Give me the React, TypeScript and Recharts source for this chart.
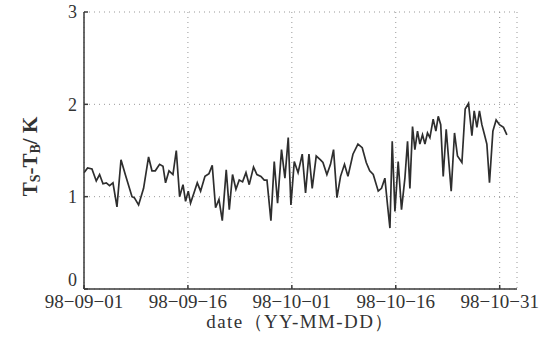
import React from "react";
import { LineChart, Line, XAxis, YAxis, CartesianGrid } from "recharts";

const days = [
  0.0, 0.52, 1.15, 1.77, 2.25, 2.74, 3.22, 3.69, 4.18, 4.76, 5.34, 5.96, 6.93, 7.26, 7.88, 8.6, 9.32, 9.81,
  10.29, 10.91, 11.4, 11.77, 12.27, 12.84, 13.32, 13.8, 14.29, 14.66, 15.05, 15.38, 15.87, 16.35, 16.83,
  17.46, 18.04, 18.51, 18.99, 19.48, 19.96, 20.53, 20.97, 21.44, 21.93, 22.41, 22.89, 23.38, 23.85, 24.47,
  24.96, 25.54, 26.02, 26.41, 26.98, 27.46, 27.94, 28.51, 29.0, 29.48, 29.87, 30.35, 30.9, 31.5, 31.98,
  32.47, 32.94, 33.52, 34.1, 34.49, 35.06, 35.58, 36.02, 36.51, 37.03, 37.6, 38.1, 38.82, 39.54, 40.16,
  40.74, 41.24, 41.75, 42.47, 42.94, 43.43, 43.81, 44.16, 44.49, 44.88, 45.35, 45.83, 46.32, 46.7, 47.04,
  47.42, 47.76, 48.14, 48.48, 48.86, 49.21, 49.58, 49.93, 50.4, 50.79, 51.13, 51.49, 51.85, 52.28, 53.0,
  53.48, 53.91, 54.55, 55.02, 55.5, 55.99, 56.32, 56.71, 57.08, 57.43, 57.81, 58.15, 58.53, 59.02, 59.49,
  59.97, 60.55, 61.04,
];

const tempDiff = [
  1.26, 1.31, 1.3, 1.17, 1.24, 1.14, 1.15, 1.12, 1.15, 0.89, 1.4, 1.24, 1.0, 0.99, 0.91, 1.09, 1.43, 1.28,
  1.28, 1.35, 1.33, 1.15, 1.28, 1.24, 1.5, 1.0, 1.13, 0.95, 1.06, 0.93, 1.04, 1.15, 1.06,
  1.22, 1.25, 1.34, 0.88, 0.97, 0.74, 1.29, 0.86, 1.24, 1.08, 1.18, 1.16, 1.26, 1.13, 1.32,
  1.24, 1.22, 1.18, 1.18, 0.74, 1.38, 0.93, 1.51, 1.2, 1.64, 0.91, 1.38, 1.26, 1.46, 1.04,
  1.46, 1.09, 1.44, 1.4, 1.37, 1.24, 1.35, 1.51, 0.99, 1.22, 1.35, 1.22, 1.46, 1.57, 1.53,
  1.37, 1.28, 1.24, 1.06, 1.09, 1.2, 0.91, 0.66, 1.6, 0.84, 1.38, 0.86, 1.2, 1.6, 1.09,
  1.76, 1.51, 1.71, 1.57, 1.67, 1.57, 1.69, 1.64, 1.84, 1.71, 1.87, 1.78, 1.22, 1.73, 1.06,
  1.69, 1.44, 1.37, 1.95, 2.01, 1.66, 1.93, 1.75, 1.93, 1.78, 1.67, 1.57, 1.15, 1.71, 1.83,
  1.78, 1.75, 1.67,
];

const xTicks = [0, 15, 30, 45, 60];
const xTickLabels = ["98\u221209\u221201", "98\u221209\u221216", "98\u221210\u221201", "98\u221210\u221216", "98\u221210\u221231"];
const yTicks = [0, 1, 2, 3];
const yTickLabels = ["0", "1", "2", "3"];

const data = days.map((d, i) => ({ day: d, v: tempDiff[i] }));

const FONT = "'Liberation Serif', 'Times New Roman', serif";
const AXIS = "#3a3a3a";

const XTick = (props: any) => {
  const { x, y, payload } = props;
  const idx = xTicks.indexOf(payload.value);
  const axisY = y - 2;
  return (
    <g>
      <line x1={x} y1={axisY} x2={x} y2={axisY - 4} stroke={AXIS} strokeWidth={1.5} />
      <text x={x} y={y + 3} dy="0.72em" textAnchor="middle" fontFamily={FONT} fontSize={19} fill="#333">
        {xTickLabels[idx]}
      </text>
    </g>
  );
};

const YTick = (props: any) => {
  const { x, y, payload } = props;
  const idx = yTicks.indexOf(payload.value);
  const axisX = x + 7;
  const shift = payload.value === 0 ? -9 : 0;
  return (
    <g>
      <line x1={axisX} y1={y} x2={axisX + 4} y2={y} stroke={AXIS} strokeWidth={1.5} />
      <text x={x} y={y + shift} dy="0.35em" textAnchor="end" fontFamily={FONT} fontSize={18} fill="#333">
        {yTickLabels[idx]}
      </text>
    </g>
  );
};

const YLabel = (props: any) => {
  const vb = props.viewBox || {};
  const cy = vb.y + vb.height / 2 + 6;
  const cx = 30;
  return (
    <text
      x={cx}
      y={cy}
      transform={`rotate(-90 ${cx} ${cy})`}
      textAnchor="middle"
      dominantBaseline="central"
      fontFamily={FONT}
      fontSize={21}
      fontWeight="bold"
      fill="#333"
    >
      T<tspan fontSize={14} dy={5}>S</tspan>
      <tspan dy={-5}>-T</tspan>
      <tspan fontSize={14} dy={5}>B</tspan>
      <tspan dy={-5}>/ K</tspan>
    </text>
  );
};

const XLabel = (props: any) => {
  const vb = props.viewBox || {};
  const cx = vb.x + vb.width / 2;
  return (
    <text x={cx} y={328} textAnchor="middle" fontFamily={FONT} fontSize={19} letterSpacing={1.4} fill="#333">
      date（YY-MM-DD）
    </text>
  );
};

export default function App() {
  return (
    <div style={{ position: "absolute", left: 0, top: 0, width: 554, height: 351, background: "#fff" }}>
      <LineChart width={554} height={351} data={data} margin={{ top: 12, right: 37, bottom: 0, left: 0 }}>
        <CartesianGrid stroke="#999" strokeDasharray="1 4" strokeWidth={1} />
        <XAxis
          dataKey="day"
          type="number"
          domain={[0, 62.5]}
          ticks={xTicks}
          interval={0}
          height={62}
          tickLine={false}
          tickSize={0}
          tickMargin={2}
          tick={<XTick />}
          axisLine={{ stroke: AXIS, strokeWidth: 1.5 }}
          label={<XLabel />}
          allowDataOverflow
        />
        <XAxis xAxisId="top" orientation="top" type="number" domain={[0, 62.5]} height={0} tick={false} tickLine={false} axisLine={{ stroke: AXIS, strokeWidth: 1.5 }} />
        <YAxis
          type="number"
          domain={[0, 3]}
          ticks={yTicks}
          interval={0}
          width={84}
          tickLine={false}
          tickSize={0}
          tickMargin={7}
          tick={<YTick />}
          axisLine={{ stroke: AXIS, strokeWidth: 1.5 }}
          label={<YLabel />}
        />
        <YAxis yAxisId="right" orientation="right" type="number" domain={[0, 3]} width={0} tick={false} tickLine={false} axisLine={{ stroke: AXIS, strokeWidth: 1.5 }} />
        <Line
          type="linear"
          dataKey="v"
          stroke="#2e2e2e"
          strokeWidth={1.7}
          dot={false}
          isAnimationActive={false}
        />
      </LineChart>
    </div>
  );
}
